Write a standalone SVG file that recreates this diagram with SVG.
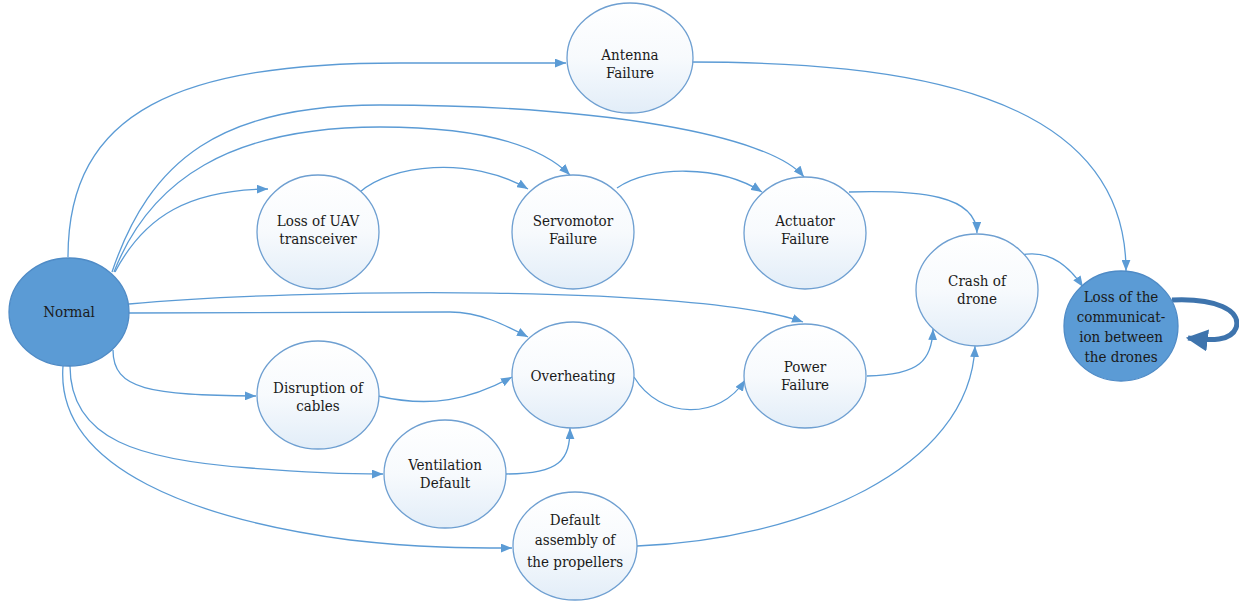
<svg xmlns="http://www.w3.org/2000/svg" width="1239" height="601" viewBox="0 0 1239 601">
<defs>
<linearGradient id="g" x1="0" y1="0" x2="0" y2="1">
<stop offset="0" stop-color="#ffffff"/>
<stop offset="0.5" stop-color="#f7fafd"/>
<stop offset="1" stop-color="#e2edf8"/>
</linearGradient>
<marker id="ah" viewBox="0 0 10 8" refX="10" refY="4" markerWidth="11" markerHeight="9" markerUnits="userSpaceOnUse" orient="auto">
<path d="M0,0 L10,4 L0,8 z" fill="#5b9bd5"/>
</marker>
<marker id="big" viewBox="0 0 10 10" refX="9" refY="5" markerWidth="22" markerHeight="22" markerUnits="userSpaceOnUse" orient="auto">
<path d="M0,0 L10,5 L0,10 z" fill="#3e74ad"/>
</marker>
<style>
.n{fill:url(#g);stroke:#6e9fd1;stroke-width:1.3}
.d{fill:#5b9bd5;stroke:#4f8bc6;stroke-width:1.3}
.t{font-family:'DejaVu Serif Condensed','DejaVu Serif',serif;font-stretch:condensed;font-size:15px;fill:#1a1a1a;text-anchor:middle}
.c path{fill:none;stroke:#5b9bd5;stroke-width:1.3;marker-end:url(#ah)}
</style>
</defs>
<rect width="1239" height="601" fill="#ffffff"/>
<g id="connectors" class="c">
<path d="M68,257 C68,110 180,63 400,63 L566,63"/>
<path d="M112,272 C150,160 220,105 380,105 C600,105 770,135 804,177"/>
<path d="M114,272 C150,180 230,127 380,127 C480,127 540,145 570,175"/>
<path d="M115,272 C145,215 190,190 268,189"/>
<path d="M129,304 C300,288 700,285 803,322"/>
<path d="M129,313 L450,312 C480,312 505,325 528,337"/>
<path d="M113,350 C113,390 150,395 256,396"/>
<path d="M70,366 C70,440 140,460 250,468 C300,472 350,474 383,474"/>
<path d="M63,366 C55,470 200,520 350,540 C420,548 470,548 512,548"/>
<path d="M360,192 C390,165 470,155 528,189"/>
<path d="M617,188 C650,165 720,165 762,192"/>
<path d="M849,192 C920,190 976,195 977,233"/>
<path d="M689,62 C900,62 1126,90 1126,271"/>
<path d="M1021,255 C1045,250 1065,260 1083,287"/>
<path d="M634,377 C660,420 720,420 745,380"/>
<path d="M867,376 C920,375 932,360 933,329"/>
<path d="M378,396 C430,408 470,400 512,377"/>
<path d="M506,474 C560,474 570,460 570,428"/>
<path d="M637,546 C800,540 970,470 975,346"/>
<path d="M1172,300 C1215,298 1242,310 1236,328 C1231,341 1212,341 1188,338" style="stroke:#3e74ad;stroke-width:5;marker-end:url(#big)"/>
</g>
<g id="normal"><ellipse class="d" cx="69" cy="312" rx="60" ry="54"/><text class="t" x="69" y="317">Normal</text></g>
<g id="antenna"><ellipse class="n" cx="630" cy="58" rx="63" ry="55"/><text class="t" x="630" y="60">Antenna</text><text class="t" x="630" y="78">Failure</text></g>
<g id="uav"><ellipse class="n" cx="318" cy="232" rx="61" ry="57"/><text class="t" x="318" y="226">Loss of UAV</text><text class="t" x="318" y="244">transceiver</text></g>
<g id="servo"><ellipse class="n" cx="573" cy="232" rx="61" ry="57"/><text class="t" x="573" y="226">Servomotor</text><text class="t" x="573" y="244">Failure</text></g>
<g id="actuator"><ellipse class="n" cx="805" cy="233" rx="61" ry="56"/><text class="t" x="805" y="226">Actuator</text><text class="t" x="805" y="244">Failure</text></g>
<g id="crash"><ellipse class="n" cx="977" cy="290" rx="61" ry="56"/><text class="t" x="977" y="286">Crash of</text><text class="t" x="977" y="304">drone</text></g>
<g id="loss"><ellipse class="d" cx="1121" cy="326" rx="57" ry="55"/><text class="t" x="1121" y="302">Loss of the</text><text class="t" x="1121" y="322">communicat-</text><text class="t" x="1121" y="342">ion between</text><text class="t" x="1121" y="362">the drones</text></g>
<g id="overheating"><ellipse class="n" cx="573" cy="375" rx="61" ry="53"/><text class="t" x="573" y="381">Overheating</text></g>
<g id="power"><ellipse class="n" cx="805" cy="376" rx="61" ry="52"/><text class="t" x="805" y="372">Power</text><text class="t" x="805" y="390">Failure</text></g>
<g id="disruption"><ellipse class="n" cx="318" cy="395" rx="61" ry="54"/><text class="t" x="318" y="393">Disruption of</text><text class="t" x="318" y="411">cables</text></g>
<g id="ventilation"><ellipse class="n" cx="445" cy="474" rx="61" ry="54"/><text class="t" x="445" y="470">Ventilation</text><text class="t" x="445" y="488">Default</text></g>
<g id="propellers"><ellipse class="n" cx="575" cy="546" rx="62" ry="54"/><text class="t" x="575" y="525">Default</text><text class="t" x="575" y="545">assembly of</text><text class="t" x="575" y="567">the propellers</text></g>
</svg>
